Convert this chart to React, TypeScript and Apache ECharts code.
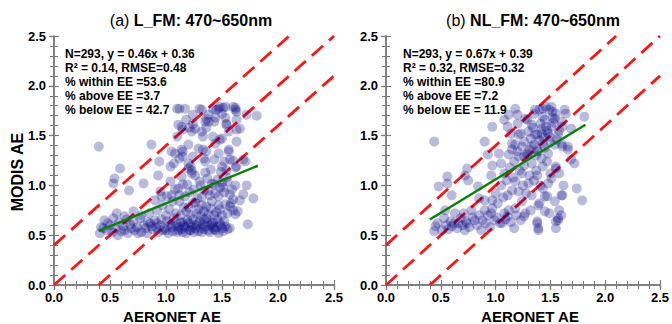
import React, { useEffect, useRef } from "react";
import * as echarts from "echarts";

// Panel (a) L_FM: [AERONET AE, MODIS AE]
const pointsA: [number, number][] = [
  [0.41,0.52],[0.42,0.58],[0.45,0.65],[0.47,0.55],[0.50,0.60],[0.52,0.53],[0.53,0.67],[0.55,0.57],[0.57,0.50],[0.58,0.63],
  [0.60,0.54],[0.62,0.59],[0.65,0.66],[0.66,0.52],[0.68,0.61],[0.71,0.64],[0.72,0.55],[0.74,0.58],[0.77,0.67],[0.78,0.53],
  [0.80,0.60],[0.83,0.52],[0.84,0.63],[0.86,0.62],[0.88,0.56],[0.90,0.65],[0.91,0.58],[0.93,0.53],[0.95,0.60],[0.96,0.66],
  [0.97,0.55],[0.99,0.57],[1.01,0.64],[1.02,0.52],[1.04,0.61],[1.06,0.54],[1.07,0.67],[1.08,0.59],[1.10,0.53],[1.11,0.55],
  [1.12,0.58],[1.13,0.63],[1.14,0.56],[1.15,0.63],[1.16,0.60],[1.17,0.58],[1.18,0.52],[1.19,0.65],[1.20,0.62],[1.21,0.55],
  [1.22,0.61],[1.23,0.58],[1.24,0.66],[1.25,0.53],[1.26,0.57],[1.27,0.60],[1.29,0.54],[1.30,0.64],[1.31,0.57],[1.32,0.53],
  [1.33,0.61],[1.34,0.56],[1.35,0.59],[1.36,0.67],[1.37,0.63],[1.38,0.55],[1.39,0.53],[1.40,0.60],[1.41,0.62],[1.42,0.63],
  [1.43,0.56],[1.44,0.55],[1.45,0.58],[1.46,0.66],[1.47,0.52],[1.48,0.62],[1.49,0.60],[1.51,0.54],[1.52,0.64],[1.53,0.59],
  [1.55,0.56],[1.57,0.57],[0.44,0.57],[0.48,0.62],[0.63,0.55],[0.69,0.57],[0.75,0.52],[0.82,0.57],[0.87,0.59],[0.92,0.62],
  [1.00,0.55],[1.05,0.58],[1.09,0.62],[1.28,0.62],[1.34,0.66],[1.42,0.58],[1.50,0.57],[1.22,0.55],[1.15,0.53],
  [0.56,0.72],[0.63,0.69],[0.71,0.74],[0.78,0.70],[0.85,0.72],[0.92,0.75],[0.97,0.80],[1.00,0.70],[1.03,0.76],[1.06,0.84],
  [1.09,0.72],[1.12,0.84],[1.13,0.70],[1.16,0.78],[1.18,0.74],[1.20,0.78],[1.22,0.70],[1.24,0.82],[1.26,0.83],[1.27,0.72],
  [1.29,0.76],[1.31,0.70],[1.32,0.80],[1.34,0.74],[1.36,0.79],[1.38,0.71],[1.40,0.77],[1.41,0.84],[1.43,0.70],[1.45,0.73],
  [1.47,0.80],[1.48,0.76],[1.50,0.70],[1.53,0.81],[1.55,0.72],[1.57,0.79],[1.58,0.82],[1.60,0.75],[1.62,0.71],[1.64,0.74],
  [1.66,0.85],
  [0.53,1.02],[0.54,1.07],[0.67,0.95],[0.80,1.02],[0.90,0.85],[0.93,1.10],[0.95,0.94],[0.96,0.89],[1.01,0.89],[1.04,1.04],
  [1.05,0.90],[1.08,0.96],[1.11,0.97],[1.12,0.90],[1.14,1.09],[1.15,1.01],[1.17,0.89],[1.19,1.01],[1.21,0.93],[1.23,1.12],
  [1.25,0.96],[1.26,1.10],[1.28,0.87],[1.30,1.04],[1.31,1.00],[1.32,0.88],[1.34,0.95],[1.35,1.13],[1.37,1.07],[1.38,0.95],
  [1.39,0.90],[1.41,1.02],[1.43,1.01],[1.44,0.92],[1.46,1.06],[1.47,0.89],[1.48,0.98],[1.50,1.03],[1.51,0.98],[1.52,0.93],
  [1.54,1.08],[1.55,1.04],[1.57,0.91],[1.59,0.96],[1.60,0.86],[1.62,1.00],[1.69,0.91],[1.72,1.00],[1.78,0.87],[1.73,0.61],
  [0.94,1.24],[1.04,1.19],[1.05,1.34],[1.07,1.22],[1.08,1.32],[1.10,1.49],[1.12,1.27],[1.14,1.36],[1.15,1.34],[1.15,1.29],
  [1.20,1.41],[1.20,1.22],[1.20,1.17],[1.22,1.19],[1.23,1.15],[1.24,1.29],[1.29,1.37],[1.32,1.54],[1.33,1.49],[1.33,1.36],
  [1.34,1.27],[1.35,1.24],[1.36,1.34],[1.40,1.16],[1.42,1.49],[1.43,1.26],[1.44,1.42],[1.47,1.32],[1.48,1.46],[1.49,1.14],
  [1.50,1.47],[1.50,1.19],[1.52,1.24],[1.54,1.15],[1.56,1.36],[1.56,1.34],[1.57,1.26],[1.60,1.25],[1.62,1.18],[1.63,1.44],
  [1.63,1.19],[1.69,1.26],[1.71,1.24],
  [0.40,1.39],[0.59,1.17],[0.87,1.41],[1.10,1.77],[1.11,1.61],[1.12,1.77],[1.14,1.59],[1.15,1.56],[1.17,1.77],[1.18,1.66],
  [1.21,1.58],[1.23,1.54],[1.24,1.71],[1.24,1.62],[1.26,1.57],[1.30,1.77],[1.32,1.76],[1.35,1.64],[1.36,1.67],[1.36,1.58],
  [1.38,1.71],[1.38,1.64],[1.42,1.77],[1.43,1.64],[1.44,1.68],[1.45,1.76],[1.47,1.77],[1.48,1.79],[1.50,1.72],[1.51,1.78],
  [1.53,1.79],[1.53,1.68],[1.54,1.61],[1.54,1.62],[1.56,1.54],[1.60,1.79],[1.62,1.76],[1.62,1.78],[1.63,1.66],[1.63,1.74],
  [1.63,1.56],[1.66,1.57],[1.72,1.71],[1.81,1.70],
];

// Panel (b) NL_FM: [AERONET AE, MODIS AE]
const pointsB: [number, number][] = [
  [0.44,0.54],[0.45,0.59],[0.47,0.62],[0.51,0.55],[0.53,0.67],[0.54,0.75],[0.55,0.60],[0.57,0.56],[0.59,0.64],[0.60,0.59],
  [0.62,0.62],[0.63,0.72],[0.65,0.57],[0.66,0.62],[0.68,0.67],[0.70,0.60],[0.71,0.72],[0.72,0.55],[0.73,0.64],[0.74,0.62],
  [0.76,0.58],[0.78,0.75],[0.79,0.68],[0.81,0.65],[0.83,0.60],[0.85,0.70],[0.87,0.55],[0.88,0.65],[0.90,0.75],[0.91,0.62],
  [0.93,0.70],[0.95,0.58],[0.96,0.72],[0.97,0.77],[0.99,0.65],[1.01,0.68],[1.02,0.82],[1.04,0.62],[1.06,0.62],[1.08,0.72],
  [1.09,0.66],[1.11,0.69],[1.12,0.75],[1.14,0.63],[1.17,0.57],[1.19,0.70],[1.23,0.65],[1.27,0.72],[1.26,0.69],[1.38,0.62],
  [1.39,0.55],[1.38,0.64],[1.39,0.57],[1.55,0.57],[1.55,0.64],[1.57,0.67],[1.58,0.75],
  [0.48,0.99],[0.56,1.02],[0.56,1.09],[0.60,0.90],[0.72,1.10],[0.74,1.17],[0.75,1.05],[0.84,0.99],[0.85,0.87],[0.90,0.85],
  [0.93,1.31],[0.96,1.10],[0.97,0.85],[0.97,1.20],[1.00,0.92],[1.03,1.32],[1.05,1.22],[1.05,1.00],[1.07,0.88],[1.08,1.12],
  [1.10,1.05],[1.11,0.90],[1.12,1.31],[1.13,1.18],[1.15,0.95],[1.16,1.08],[1.17,1.24],[1.18,1.04],[1.18,0.77],[1.20,1.34],
  [1.21,0.94],[1.21,1.29],[1.22,1.15],[1.24,1.12],[1.24,0.84],[1.25,1.00],[1.26,1.20],[1.28,0.92],[1.29,1.32],[1.30,1.02],
  [1.31,1.10],[1.32,0.75],[1.33,0.90],[1.33,1.22],[1.35,1.05],[1.37,1.15],[1.38,1.10],[1.39,0.80],[1.40,0.82],[1.41,1.00],
  [1.43,1.19],[1.43,0.97],[1.45,0.89],[1.45,0.74],[1.47,0.89],[1.48,1.02],[1.49,0.72],[1.50,1.12],[1.51,1.07],[1.54,0.84],
  [1.55,1.17],[1.55,1.19],[1.57,0.65],[1.58,1.12],[1.60,0.70],[1.60,0.90],[1.61,0.90],[1.62,1.00],[1.66,1.36],[1.69,1.26],
  [1.72,1.22],[1.74,0.97],[1.79,0.85],
  [0.44,1.44],[0.90,1.44],[0.97,1.59],[1.08,1.66],[1.11,1.59],[1.12,1.71],[1.14,1.52],[1.15,1.42],[1.15,1.36],[1.18,1.77],
  [1.18,1.41],[1.20,1.71],[1.20,1.62],[1.21,1.51],[1.23,1.52],[1.24,1.39],[1.26,1.44],[1.27,1.67],[1.29,1.66],[1.29,1.31],
  [1.30,1.54],[1.32,1.47],[1.33,1.61],[1.33,1.39],[1.34,1.58],[1.35,1.72],[1.35,1.41],[1.36,1.51],[1.36,1.76],[1.38,1.51],
  [1.38,1.35],[1.39,1.34],[1.40,1.76],[1.40,1.45],[1.41,1.62],[1.42,1.52],[1.42,1.57],[1.43,1.69],[1.43,1.77],[1.43,1.42],
  [1.44,1.48],[1.45,1.66],[1.45,1.38],[1.46,1.79],[1.46,1.59],[1.47,1.55],[1.48,1.32],[1.48,1.52],[1.49,1.76],[1.49,1.49],
  [1.50,1.44],[1.51,1.79],[1.51,1.59],[1.52,1.74],[1.52,1.68],[1.53,1.63],[1.54,1.67],[1.54,1.41],[1.55,1.72],[1.56,1.46],
  [1.57,1.51],[1.58,1.55],[1.60,1.64],[1.60,1.42],[1.61,1.39],[1.61,1.59],[1.63,1.76],[1.64,1.72],[1.66,1.39],[1.69,1.57],
  [1.81,1.69],[1.26,1.29],[1.31,1.36],[1.37,1.30],[1.42,1.27],[1.47,1.24],
];

const titlePrefix = ["(a) ", "(b) "];
const titleMain = ["L_FM: 470~650nm", "NL_FM: 470~650nm"];
const statsA = ["N=293, y = 0.46x + 0.36", "R\u00b2 = 0.14, RMSE=0.48", "% within EE =53.6", "% above EE =3.7", "% below EE = 42.7"];
const statsB = ["N=293, y = 0.67x + 0.39", "R\u00b2 = 0.32, RMSE=0.32", "% within EE =80.9", "% above EE =7.2", "% below EE = 11.9"];
const fitSlope = [0.46, 0.67];
const fitIntercept = [0.36, 0.39];
const fitXRange = [0.4, 1.82];
const eeOffsets = [0.4, 0, -0.4];
const axisMin = 0;
const axisMax = 2.5;
const axisStep = 0.5;

const FONT = "'Liberation Sans', Arial, sans-serif";
const AXIS_COLOR = "#7a7a7a";

export default function App() {
  const ref = useRef<HTMLDivElement>(null);
  useEffect(() => {
    if (!ref.current) return;
    const chart = echarts.init(ref.current, undefined, { renderer: "svg" });
    const grids = [
      { left: 54, top: 36, width: 280, height: 249 },
      { left: 386, top: 36, width: 280, height: 249 },
    ];
    const xAxes: any[] = [];
    const yAxes: any[] = [];
    const series: any[] = [];
    const base = { type: "value", min: axisMin, max: axisMax, interval: axisStep, splitLine: { show: false } };
    const labelStyle = {
      show: true,
      color: "#000",
      fontSize: 13,
      fontWeight: "bold",
      fontFamily: FONT,
      formatter: (v: number) => v.toFixed(1),
    };
    grids.forEach((_, g) => {
      xAxes.push({
        ...base, gridIndex: g, position: "bottom",
        axisLine: { show: true, lineStyle: { color: AXIS_COLOR, width: 1.5 } },
        axisTick: { show: true, inside: true, length: 5, lineStyle: { color: AXIS_COLOR, width: 1.2 } },
        minorTick: { show: true, splitNumber: 5, length: 4, lineStyle: { color: AXIS_COLOR, width: 1 } },
        axisLabel: { ...labelStyle, margin: 6 },
      });
      xAxes.push({
        ...base, gridIndex: g, position: "top",
        axisLine: { show: true, lineStyle: { color: AXIS_COLOR, width: 1.5 } },
        axisTick: { show: true, inside: true, length: 5, lineStyle: { color: AXIS_COLOR, width: 1.2 } },
        minorTick: { show: true, splitNumber: 5, length: 4, lineStyle: { color: AXIS_COLOR, width: 1 } },
        axisLabel: { show: false },
      });
      xAxes.push({
        ...base, gridIndex: g, position: "bottom",
        axisLine: { show: false },
        axisTick: { show: true, inside: false, length: 4, lineStyle: { color: AXIS_COLOR, width: 1.2 } },
        axisLabel: { show: false },
      });
      yAxes.push({
        ...base, gridIndex: g, position: "left",
        axisLine: { show: true, lineStyle: { color: AXIS_COLOR, width: 1.5 } },
        axisTick: { show: true, inside: true, length: 5, lineStyle: { color: AXIS_COLOR, width: 1.2 } },
        minorTick: { show: true, splitNumber: 5, length: 4, lineStyle: { color: AXIS_COLOR, width: 1 } },
        axisLabel: { ...labelStyle, margin: 8 },
      });
      yAxes.push({
        ...base, gridIndex: g, position: "right",
        axisLine: { show: true, lineStyle: { color: AXIS_COLOR, width: 1.5 } },
        axisTick: { show: true, inside: true, length: 5, lineStyle: { color: AXIS_COLOR, width: 1.2 } },
        minorTick: { show: true, splitNumber: 5, length: 4, lineStyle: { color: AXIS_COLOR, width: 1 } },
        axisLabel: { show: false },
      });
      yAxes.push({
        ...base, gridIndex: g, position: "left",
        axisLine: { show: false },
        axisTick: { show: true, inside: false, length: 4, lineStyle: { color: AXIS_COLOR, width: 1.2 } },
        axisLabel: { show: false },
      });

      const xi = g * 3;
      const yi = g * 3;
      eeOffsets.forEach((o) => {
        const x0 = Math.max(axisMin, axisMin - o);
        const x1 = Math.min(axisMax, axisMax - o);
        series.push({
          type: "line",
          xAxisIndex: xi,
          yAxisIndex: yi,
          data: [[x0, x0 + o], [x1, x1 + o]],
          showSymbol: false,
          symbol: "none",
          silent: true,
          z: 2,
          lineStyle: { color: "#ff1414", width: 2.8, type: [15, 8], cap: "butt" },
        });
      });
      series.push({
        type: "scatter",
        xAxisIndex: xi,
        yAxisIndex: yi,
        data: g === 0 ? pointsA : pointsB,
        symbol: "circle",
        symbolSize: 10,
        z: 3,
        itemStyle: { color: "rgba(0,0,128,0.34)", borderWidth: 0 },
      });
      series.push({
        type: "line",
        xAxisIndex: xi,
        yAxisIndex: yi,
        data: fitXRange.map((x) => [x, fitSlope[g] * x + fitIntercept[g]]),
        showSymbol: false,
        symbol: "none",
        silent: true,
        z: 4,
        lineStyle: { color: "#078207", width: 2.5, type: "solid" },
      });
    });

    const graphic: any[] = [];
    const titleX = [191, 533];
    titleX.forEach((tx, g) => {
      graphic.push({
        type: "text",
        x: tx,
        y: 20,
        style: {
          text: `{n|${titlePrefix[g]}}{b|${titleMain[g]}}`,
          align: "center",
          verticalAlign: "middle",
          rich: {
            n: { fontSize: 16, fontWeight: "normal", fontFamily: FONT, fill: "#000" },
            b: { fontSize: 16, fontWeight: "bold", fontFamily: FONT, fill: "#000" },
          },
        },
      });
    });
    const statsX = [65, 403];
    [statsA, statsB].forEach((lines, g) => {
      lines.forEach((t, i) => {
        graphic.push({
          type: "text",
          x: statsX[g],
          y: 53.5 + i * 14.2,
          style: {
            text: t,
            align: "left",
            verticalAlign: "middle",
            fontSize: 12,
            fontWeight: "bold",
            fontFamily: FONT,
            fill: "#000",
          },
        });
      });
    });
    const xNameX = [172, 530];
    xNameX.forEach((nx) => {
      graphic.push({
        type: "text",
        x: nx,
        y: 316,
        style: {
          text: "AERONET AE",
          align: "center",
          verticalAlign: "middle",
          fontSize: 15,
          fontWeight: "bold",
          fontFamily: FONT,
          fill: "#000",
        },
      });
    });
    graphic.push({
      type: "text",
      x: 17,
      y: 172,
      rotation: Math.PI / 2,
      style: {
        text: "MODIS AE",
        align: "center",
        verticalAlign: "middle",
        fontSize: 16,
        fontWeight: "bold",
        fontFamily: FONT,
        fill: "#000",
      },
    });

    chart.setOption({
      animation: false,
      backgroundColor: "#fff",
      grid: grids,
      xAxis: xAxes,
      yAxis: yAxes,
      series,
      graphic,
    });
    return () => chart.dispose();
  }, []);
  return (
    <div
      ref={ref}
      style={{ position: "fixed", left: 0, top: 0, width: 672, height: 324 }}
    />
  );
}
